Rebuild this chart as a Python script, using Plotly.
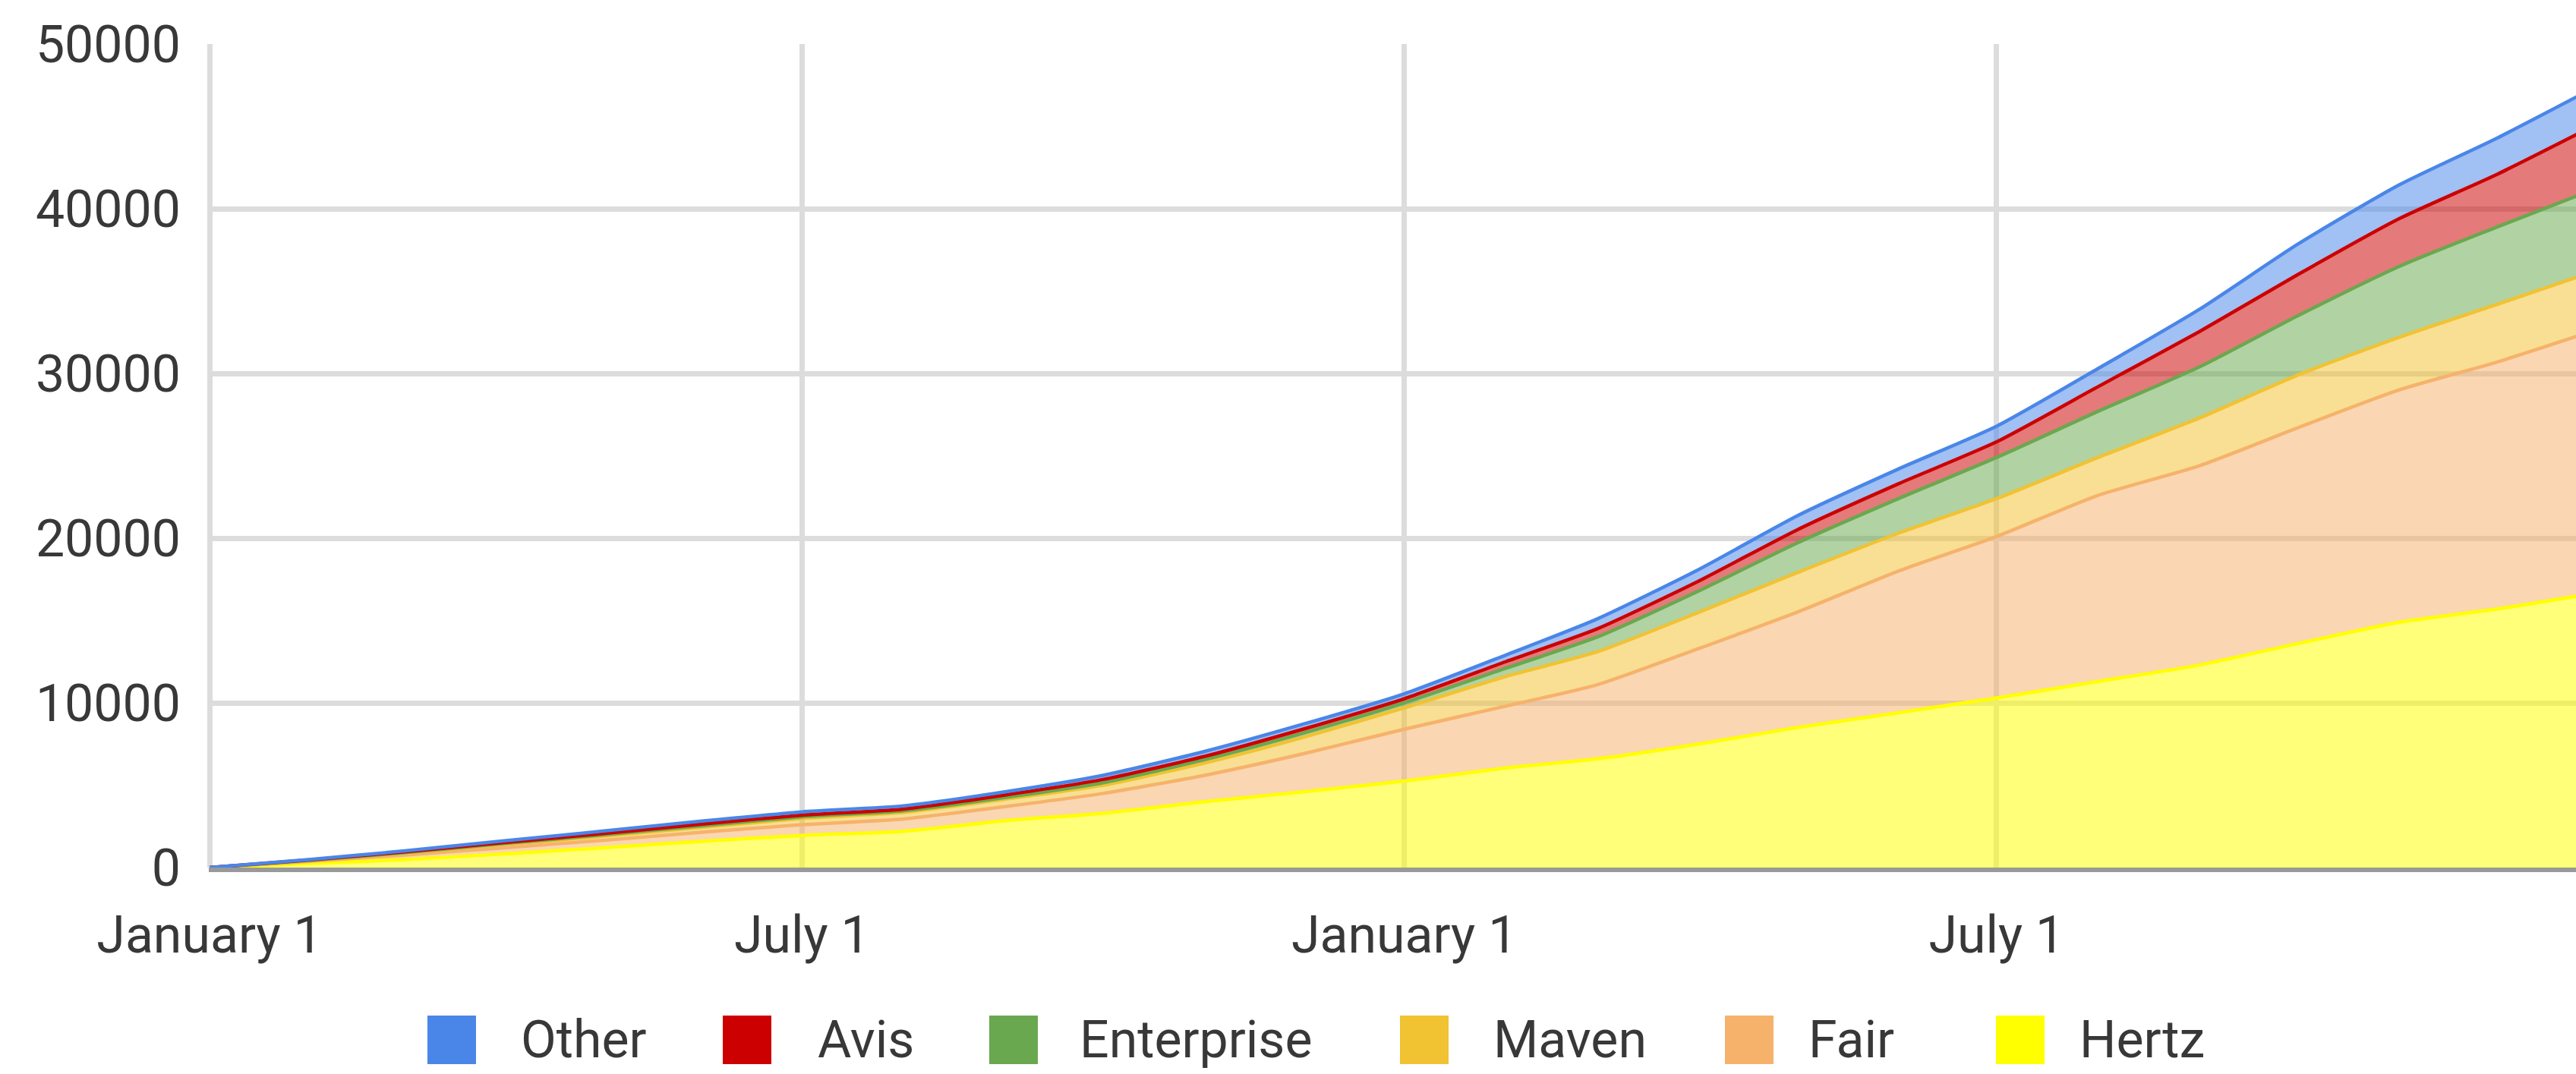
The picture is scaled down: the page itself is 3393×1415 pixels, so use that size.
import plotly.graph_objects as go

# ---------------- data ----------------
DATES = [
    "2017-01-01", "2017-02-01", "2017-03-01", "2017-04-01", "2017-05-01", "2017-06-01",
    "2017-07-01", "2017-08-01", "2017-09-01", "2017-10-01", "2017-11-01", "2017-12-01",
    "2018-01-01", "2018-02-01", "2018-03-01", "2018-04-01", "2018-05-01", "2018-06-01",
    "2018-07-01", "2018-08-01", "2018-09-01", "2018-10-01", "2018-11-01", "2018-12-01",
    "2019-01-01",
]

HERTZ = [0, 250, 480, 830, 1200, 1600, 1950, 2200, 2850, 3300, 4000, 4600,
         5250, 6050, 6600, 7500, 8500, 9400, 10300, 11300, 12300, 13600, 14900, 15700, 16700]
FAIR = [0, 130, 270, 370, 450, 550, 650, 750, 850, 1200, 1600, 2300,
        3150, 3750, 4500, 5800, 7000, 8600, 9800, 11300, 12100, 13100, 14100, 15000, 16000]
MAVEN = [0, 50, 110, 200, 250, 300, 380, 400, 450, 500, 750, 1000,
         1300, 1800, 2000, 2200, 2400, 2300, 2300, 2300, 2900, 3200, 3200, 3500, 3600]
ENTERPRISE = [0, 20, 40, 60, 80, 100, 100, 100, 100, 150, 200, 250,
              300, 500, 900, 1300, 1800, 2100, 2500, 2800, 3100, 3600, 4300, 4700, 5000]
AVIS = [0, 20, 40, 60, 80, 100, 100, 100, 150, 200, 200, 250,
        250, 400, 500, 600, 800, 900, 950, 1500, 2150, 2500, 2900, 3200, 3900]
OTHER = [0, 30, 60, 100, 150, 180, 200, 200, 200, 250, 300, 300,
         300, 400, 600, 700, 850, 900, 950, 1100, 1350, 1850, 2050, 2200, 2300]

SERIES_NAMES = ["Hertz", "Fair", "Maven", "Enterprise", "Avis", "Other"]
SERIES_VALUES = [HERTZ, FAIR, MAVEN, ENTERPRISE, AVIS, OTHER]
SERIES_COLORS = ["#FFFF00", "#F6B26B", "#F1C232", "#6AA84F", "#CC0000", "#4A86E8"]

LEGEND_ORDER = ["Other", "Avis", "Enterprise", "Maven", "Fair", "Hertz"]

X_TICKS = ["2017-01-01", "2017-07-01", "2018-01-01", "2018-07-01"]
X_TICK_LABELS = ["January 1", "July 1", "January 1", "July 1"]
Y_TICKS = [0, 10000, 20000, 30000, 40000, 50000]
Y_TICK_LABELS = ["0", "10000", "20000", "30000", "40000", "50000"]

# ---------------- layout constants (pixels) ----------------
W, H = 3393, 1415
PL, PR, PT, PB = 275, 0, 58, 272
PLOT_W = W - PL - PR
PLOT_H = H - PT - PB
FONT = "Roboto, Arial, sans-serif"
TEXT_COLOR = "#383838"
FS = 68

# legend: square left edges and text left edges (page pixels), centre y
LEGEND_SQ_X = [563, 952, 1303, 1844, 2272, 2629]
LEGEND_TX_X = [684, 1075, 1420, 1965, 2380, 2737]
LEGEND_Y = 1370
SQ = 64


def px_x(px):
    return (px - PL) / PLOT_W


def px_y(py):
    return (H - PB - py) / PLOT_H


def rgba(hexc, a):
    h = hexc.lstrip("#")
    r, g, b = int(h[0:2], 16), int(h[2:4], 16), int(h[4:6], 16)
    return f"rgba({r},{g},{b},{a})"


fig = go.Figure()
for name, vals, col in zip(SERIES_NAMES, SERIES_VALUES, SERIES_COLORS):
    fig.add_trace(go.Scatter(
        x=DATES, y=vals, name=name, mode="lines",
        stackgroup="one",
        line=dict(color=col, width=4.5, shape="spline", smoothing=0.6),
        fillcolor=rgba(col, 0.52),
        showlegend=False,
        hoverinfo="skip",
    ))

shapes = []
annotations = []
color_of = dict(zip(SERIES_NAMES, SERIES_COLORS))
for name, sx, tx in zip(LEGEND_ORDER, LEGEND_SQ_X, LEGEND_TX_X):
    shapes.append(dict(
        type="rect", xref="paper", yref="paper",
        x0=px_x(sx), x1=px_x(sx + SQ),
        y0=px_y(LEGEND_Y + SQ / 2), y1=px_y(LEGEND_Y - SQ / 2),
        fillcolor=color_of[name], line=dict(width=0),
    ))
    annotations.append(dict(
        xref="paper", yref="paper", x=px_x(tx), y=px_y(LEGEND_Y),
        xanchor="left", yanchor="middle", showarrow=False,
        text=name, font=dict(family=FONT, size=FS, color=TEXT_COLOR),
    ))

fig.update_layout(
    width=W, height=H,
    margin=dict(l=PL, r=PR, t=PT, b=PB, pad=0),
    paper_bgcolor="white", plot_bgcolor="white",
    font=dict(family=FONT, size=FS, color=TEXT_COLOR),
    showlegend=False,
    shapes=shapes,
    annotations=annotations,
    xaxis=dict(
        type="date",
        range=["2016-12-31 18:00", "2018-12-25"],
        tickvals=X_TICKS, ticktext=X_TICK_LABELS,
        showgrid=True, gridcolor="#DCDCDC", gridwidth=7,
        showline=True, linecolor="rgba(70,70,70,0.55)", linewidth=6,
        ticks="", ticklabelstandoff=24,
        zeroline=False,
        tickfont=dict(family=FONT, size=FS, color=TEXT_COLOR),
    ),
    yaxis=dict(
        range=[0, 50000],
        tickvals=Y_TICKS, ticktext=Y_TICK_LABELS,
        showgrid=True, gridcolor="#DCDCDC", gridwidth=7,
        showline=False, zeroline=False,
        ticks="", ticklabelstandoff=36,
        tickfont=dict(family=FONT, size=FS, color=TEXT_COLOR),
    ),
)

fig.write_html("out.html")
